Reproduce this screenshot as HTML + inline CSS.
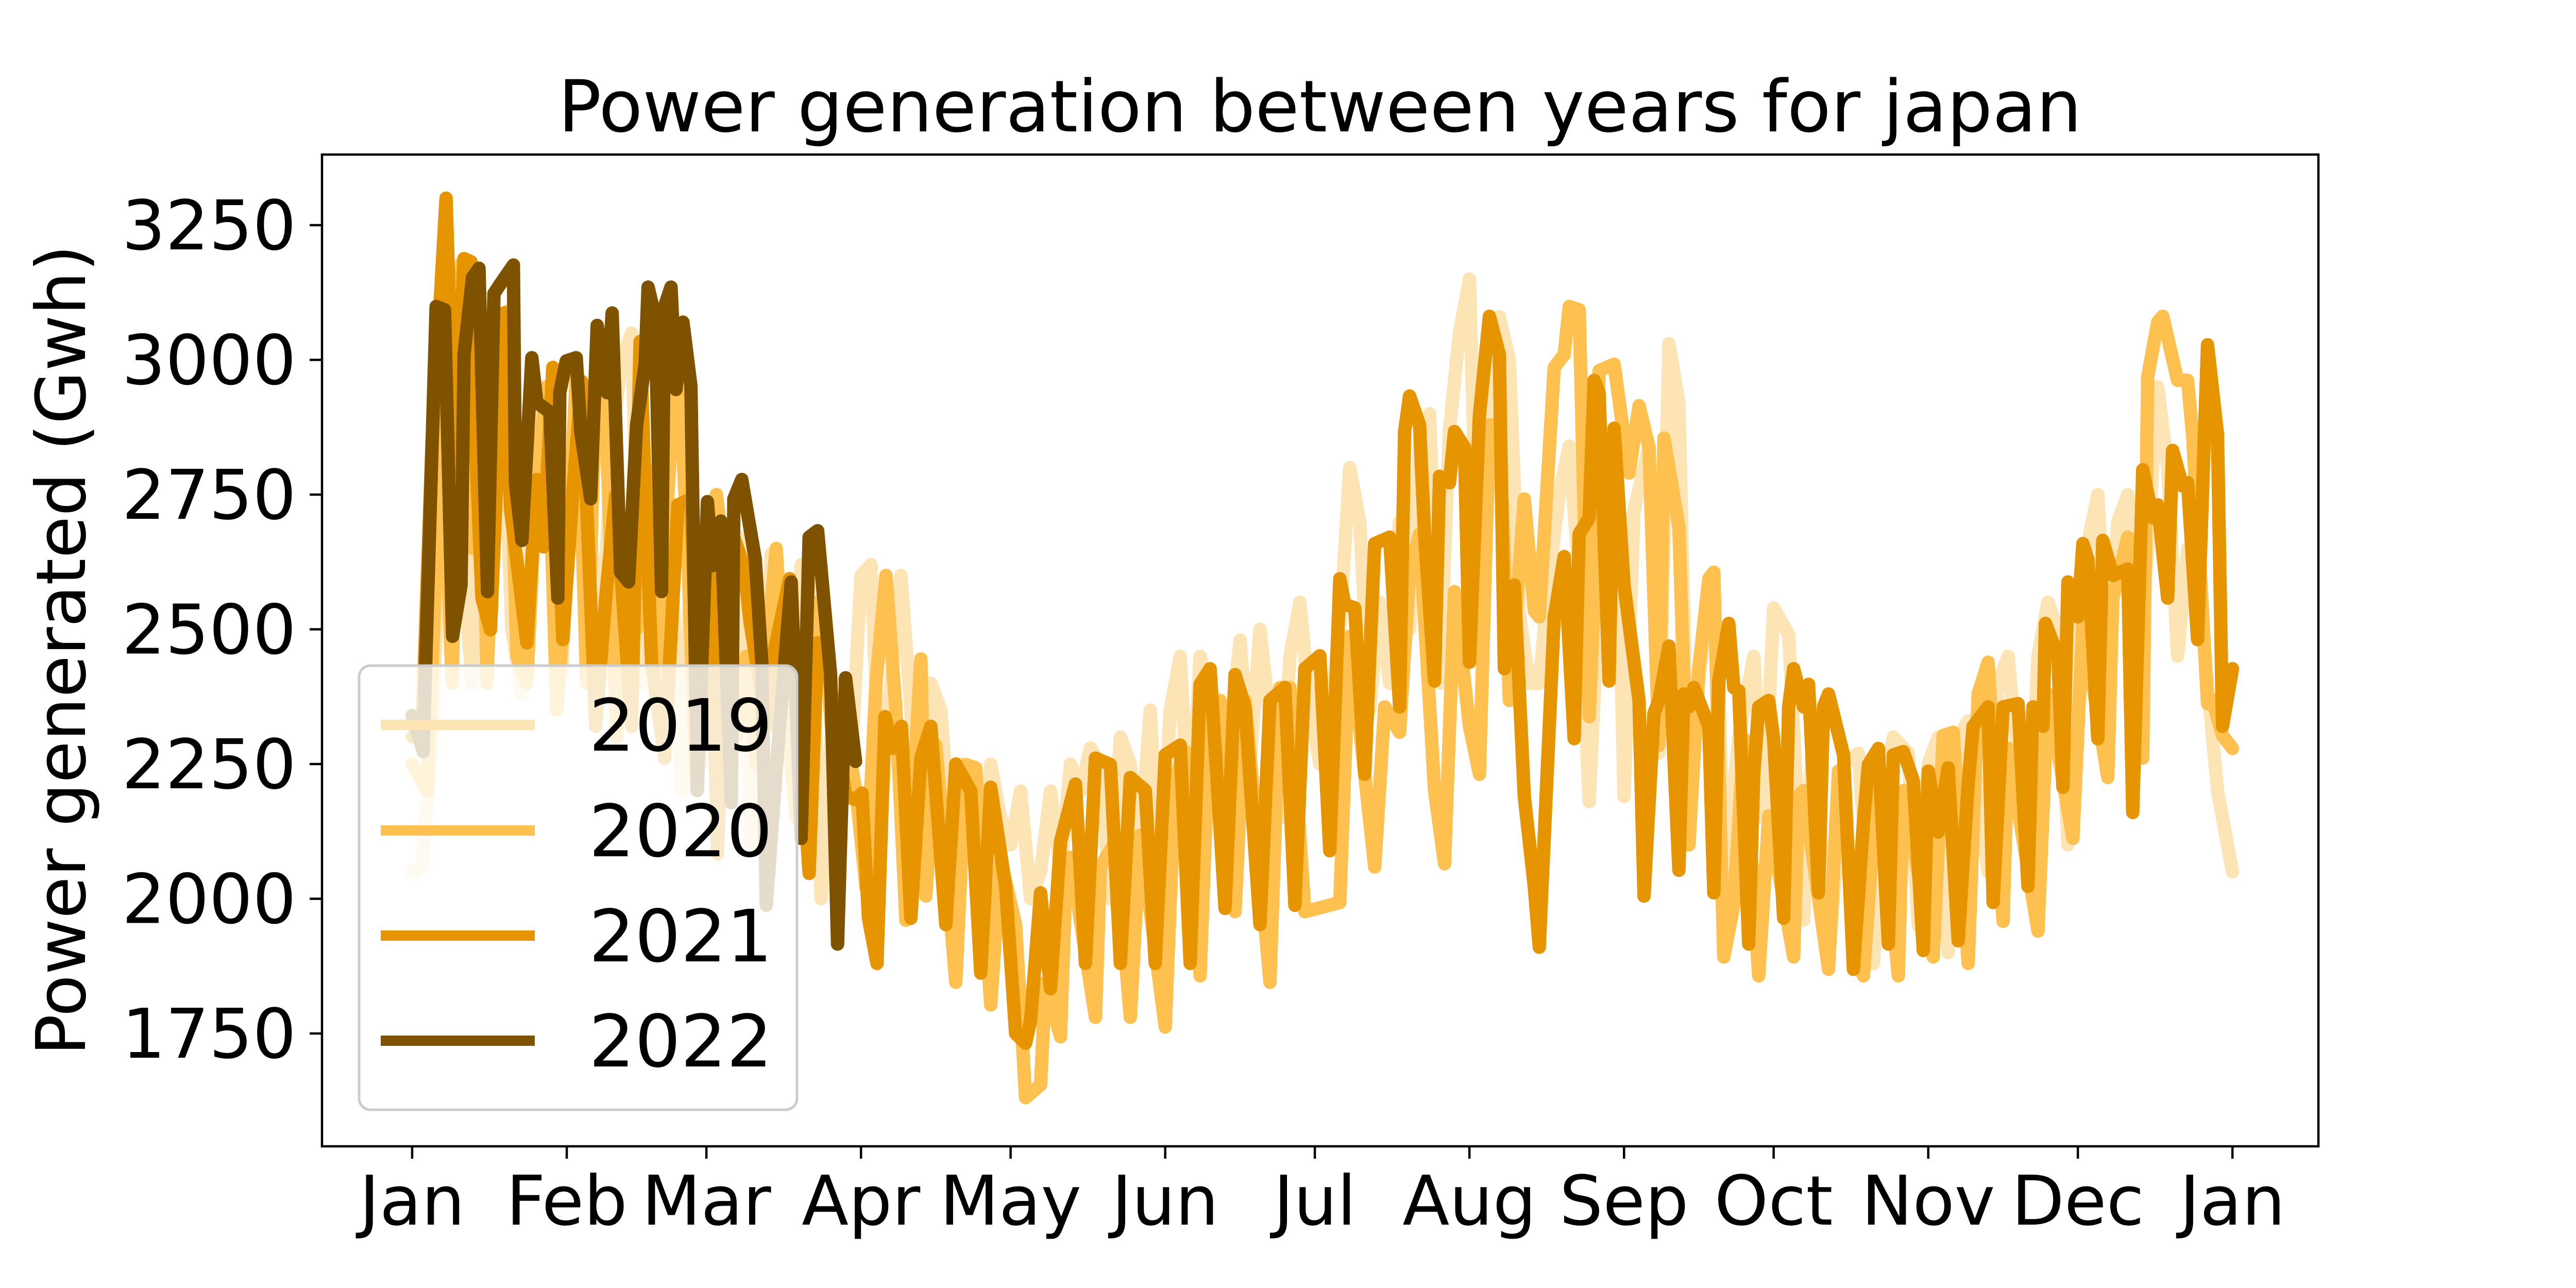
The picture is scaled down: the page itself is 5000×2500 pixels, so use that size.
<!DOCTYPE html>
<html><head><meta charset="utf-8"><style>
html,body{margin:0;padding:0;background:#fff;}
svg{display:block;font-family:"DejaVu Sans","Liberation Sans",sans-serif;}
</style></head><body>
<svg id="chart" width="5000" height="2500" viewBox="0 0 5000 2500" xmlns="http://www.w3.org/2000/svg">
<rect width="5000" height="2500" fill="#fff"/>
<text x="2562" y="255" font-size="139" text-anchor="middle" fill="#000">Power generation between years for japan</text>
<text transform="translate(165,1262) rotate(-90)" font-size="133" text-anchor="middle" fill="#000">Power generated (Gwh)</text>
<g id="plot"></g>
<g id="axes"></g>
<g id="legend"></g>
</svg>
<script>
const yearNames = ["2019","2020","2021","2022"];
const yearColors = ["#fde4b4","#fec150","#e69500","#7f5200"];
const monthLabels = ["Jan","Feb","Mar","Apr","May","Jun","Jul","Aug","Sep","Oct","Nov","Dec","Jan"];
const monthDays = [0,31,59,90,120,151,181,212,243,273,304,334,365];
const yTicks = [1750,2000,2250,2500,2750,3000,3250];

const days2019 = [0,2,4,6,8,10,12,14,16,18,20,22,24,26,28,30,32,34,36,38,40,42,44,46,48,50,52,54,56,58,60,62,64,66,68,70,72,74,76,78,80,82,84,86,88,90,92,94,96,98,100,102,104,106,108,110,112,114,116,118,120,122,124,126,128,130,132,134,136,138,140,142,144,146,148,150,152,154,156,158,160,162,164,166,168,170,172,174,176,178,180,182,184,186,188,190,192,194,196,198,200,202,204,206,208,210,212,214,216,218,220,222,224,226,228,230,232,234,236,238,240,242,243,245,248,250,252,254,256,258,260,262,263,266,269,271,273,276,279,281,284,287,290,293,295,297,300,302,304,306,308,310,312,314,316,318,320,322,324,326,328,330,332,334,336,338,340,342,344,346,348,350,352,354,356,358,360,362,364,365];
const vals2019 = [2050,2060,2300,2800,2950,2650,2400,2950,2700,2980,2500,2380,2700,2950,2900,2420,2800,2960,2650,2450,2850,3000,3050,2400,2600,2800,2620,2200,2650,2660,2250,2600,2300,2670,2100,2200,2640,2520,2330,2620,2600,2000,2300,2400,2250,2600,2620,2150,2400,2600,2350,2100,2400,2350,2100,2250,2200,2050,2250,2150,2100,2200,2000,2050,2200,2050,2250,2200,2280,2250,2000,2300,2250,2100,2350,2000,2350,2450,2100,2450,2350,2200,2300,2480,2250,2500,2330,2150,2450,2550,2350,2250,2350,2500,2800,2700,2350,2550,2400,2700,2500,2850,2900,2400,2870,3050,3150,2440,2800,3080,3000,2530,2400,2400,2600,2750,2840,2600,2180,2570,2700,2600,2190,2720,2840,2270,3030,2920,2100,2400,2590,2400,2020,2300,2450,2150,2540,2490,1960,2330,1880,2250,2270,1880,2200,2300,2270,1950,2250,2300,1900,2300,2330,2200,2050,2400,2450,2250,2050,2450,2550,2500,2100,2550,2660,2750,2400,2700,2750,2450,2650,2950,2800,2450,2650,2600,2400,2200,2100,2050];

const days2020 = [0,3,6,8,10,12,14,15,17,19,21,23,25,27,29,31,33,35,37,39,41,43,45,47,49,51,53,55,57,59,61,63,65,67,69,71,73,75,77,79,81,83,85,87,89,91,93,95,97,99,102,103,105,109,111,113,116,118,121,123,126,127,130,131,132,137,138,141,144,146,151,153,155,158,160,162,165,167,172,174,176,179,186,188,193,195,198,200,202,205,207,209,212,214,216,218,220,223,225,226,229,231,232,234,236,237,238,241,244,246,248,250,251,254,256,258,260,261,263,265,267,270,272,277,278,279,284,286,291,294,298,299,305,307,309,312,314,316,319,320,326,328,333,335,340,341,344,347,348,350,351,354,356,357,360,361,363,365];
const vals2020 = [2250,2200,2900,2400,3180,2650,2900,2400,2950,3090,2450,2400,2800,2950,2350,2600,2990,2400,3000,2850,2300,2500,2500,2800,2400,2700,3050,2700,2200,2500,2750,2600,2300,2450,2250,2450,2650,2350,2150,2400,2550,2450,2200,2300,2200,2020,2400,2600,2350,1960,2445,2005,2285,1845,2249,2243,1803,2071,1952,1631,1655,1845,1744,2011,2077,1780,2059,2106,1780,2118,1762,2225,2273,1857,2356,2368,1976,2368,1845,2392,2392,1976,1993,2487,2059,2356,2309,2606,2677,2201,2065,2570,2320,2231,2879,2879,2368,2742,2534,2523,2986,3010,3099,3093,2338,2558,2980,2992,2790,2915,2838,2285,2855,2689,2100,2427,2594,2606,1892,1988,2297,1857,2154,1892,2190,2201,1869,2237,1857,2250,1857,2201,1892,2303,2309,1880,2380,2439,1958,2279,1940,2380,2112,2511,2225,2558,2671,2261,2968,3070,3081,2962,2962,2861,2362,2368,2303,2279];

const days2021 = [0,2,4,6.8,8.5,10.4,11.8,12.4,14,15.7,18.4,19.7,23,25,26.3,28.2,30.2,32.2,34,36.8,38.8,40.8,44,45.7,48,50.6,53.3,55.9,57.2,59.9,61.2,63.8,66.5,67.8,71.1,72.4,75.7,79.6,81.3,82.9,84.3,86.9,88.9,90.2,91.5,93.2,94.8,96.4,98.1,100,102,104,107,109,112,114,116,119,121,123,124,126,128,130,133,135,137,140,142,144,147,149,151,154,156,158,160,163,165,167,170,172,175,177,179,182,184,186,187,189,191,193,196,198,199,200,202,203,205,206,208,209,211,212,214,216,218,219,221,223,225,226,229,231,233,234,236,237,238,240,241,243,246,247,249,250,252,254,255,256,257,260,261,262,264,265,266,268,269,270,272,273,275,276,277,279,280,282,283,284,287,289,291,292,294,296,297,299,301,303,304,306,308,310,312,313,316,317,319,322,324,325,327,327.5,330,331,332,334,335,336,338,339,341,344,345,347,349,350,352,353,355,356,358,360,362,363,365];
const vals2021 = [2300,2320,2850,3300,2796,3188,3182,2915,2558,2499,3087,2725,2475,2778,2653,2986,2481,2754,2960,2320,2558,2748,2320,3034,2439,2261,2731,2742,2380,2653,2083,2689,2618,2511,2320,2451,2594,2047,2475,2451,2368,2190,2184,2196,1964,1880,2338,2279,2320,1964,2261,2320,1952,2250,2200,1862,2207,2023,1750,1732,1773,2011,1833,2106,2213,1880,2261,2249,1880,2225,2201,1880,2267,2285,1880,2398,2427,1982,2416,2356,1952,2368,2392,1988,2427,2451,2089,2594,2546,2540,2231,2659,2671,2356,2867,2933,2879,2677,2404,2784,2772,2867,2838,2439,2897,3081,3010,2427,2582,2190,2023,1910,2523,2635,2297,2677,2707,2962,2939,2404,2873,2582,2368,2005,2344,2368,2469,2053,2380,2356,2392,2320,2011,2404,2511,2392,2386,1916,2231,2356,2368,2297,1964,2356,2427,2356,2398,2011,2356,2380,2267,1869,2142,2249,2279,1916,2267,2273,2219,1904,2237,2124,2243,1922,2213,2320,2356,1993,2356,2362,2023,2356,2320,2511,2451,2207,2588,2523,2659,2630,2297,2665,2600,2612,2160,2796,2707,2731,2558,2832,2766,2772,2481,3028,2861,2320,2427];

const days2022 = [0,2.2,4.8,6.5,8.1,9.8,10.4,12.1,13.4,15.1,16.4,17.7,20.3,20.7,22,24,25,27.6,29.2,29.6,30.9,32.9,33.8,35.8,37.1,39.1,40.1,41.8,43.4,45,46.7,47.3,48.7,50,50.6,51.9,52.9,54.3,55.9,57.2,59.2,60.2,61.9,64,64.5,66.1,68.8,70.1,71,73.5,76,78,79.6,81.3,83.9,85.3,86.9,88.9];
const vals2022 = [2340,2273,3099,3093,2487,2582,3010,3153,3170,2570,3123,3141,3176,2772,2665,3004,2921,2903,2558,2939,2998,3004,2867,2742,3064,2939,3087,2606,2588,2879,2992,3135,3081,2570,3099,3135,2945,3070,2951,2201,2737,2618,2701,2178,2742,2778,2630,2439,1988,2300,2588,2112,2671,2683,2416,1916,2410,2255];

const dayArrays = [days2019, days2020, days2021, days2022];
const valArrays = [vals2019, vals2020, vals2021, vals2022];

const NS = "http://www.w3.org/2000/svg";
const AX = {left:625, right:4500, top:300, bottom:2225};
function xScale(d){ return 800 + d * 9.68; }
function yScale(v){ return 437 + (3250 - v) * 261.5 / 250; }
function mk(tag, attrs, parent){
  const el = document.createElementNS(NS, tag);
  for (const k in attrs) el.setAttribute(k, attrs[k]);
  parent.appendChild(el);
  return el;
}

const plot = document.getElementById('plot');
for (let s = 0; s < yearNames.length; s++){
  const pts = dayArrays[s].map((d,i) => xScale(d).toFixed(1) + "," + yScale(valArrays[s][i]).toFixed(1)).join(" ");
  const pl = mk('polyline', {points: pts, fill: 'none', stroke: yearColors[s], 'stroke-width': 26, 'stroke-linejoin': 'round', 'stroke-linecap': 'round'}, plot);
  
  
}

const axes = document.getElementById('axes');
const frame = mk('rect', {x: AX.left, y: AX.top, width: AX.right-AX.left, height: AX.bottom-AX.top, fill: 'none', stroke: '#000', 'stroke-width': 4.5}, axes);



for (let i = 0; i < yTicks.length; i++){
  const y = yScale(yTicks[i]);
  const t = mk('line', {x1: AX.left-24, x2: AX.left, y1: y, y2: y, stroke: '#000', 'stroke-width': 4.5}, axes);
  
  
  const lb = mk('text', {x: AX.left-50, y: y+47, 'font-size': 133, 'text-anchor': 'end', fill: '#000'}, axes);
  lb.textContent = yTicks[i];
  
  
}
for (let i = 0; i < monthDays.length; i++){
  const x = xScale(monthDays[i]);
  const t = mk('line', {x1: x, x2: x, y1: AX.bottom, y2: AX.bottom+24, stroke: '#000', 'stroke-width': 4.5}, axes);
  
  
  const lb = mk('text', {x: x, y: AX.bottom+152, 'font-size': 133, 'text-anchor': 'middle', fill: '#000'}, axes);
  lb.textContent = monthLabels[i];
  
  
}

const legend = document.getElementById('legend');
const lbox = mk('rect', {x: 697, y: 1292, width: 850, height: 862, rx: 22, ry: 22, fill: '#fff', 'fill-opacity': 0.8, stroke: '#cccccc', 'stroke-width': 5}, legend);


const rowY = [1407, 1612, 1816, 2020];
for (let s = 0; s < yearNames.length; s++){
  const g = mk('g', {}, legend);
  
  
  mk('line', {x1: 739, x2: 1038, y1: rowY[s], y2: rowY[s], stroke: yearColors[s], 'stroke-width': 20}, g);
  const tx = mk('text', {x: 1143, y: rowY[s]+50, 'font-size': 140, fill: '#000'}, g);
  tx.textContent = yearNames[s];
}
</script>
</body></html>
